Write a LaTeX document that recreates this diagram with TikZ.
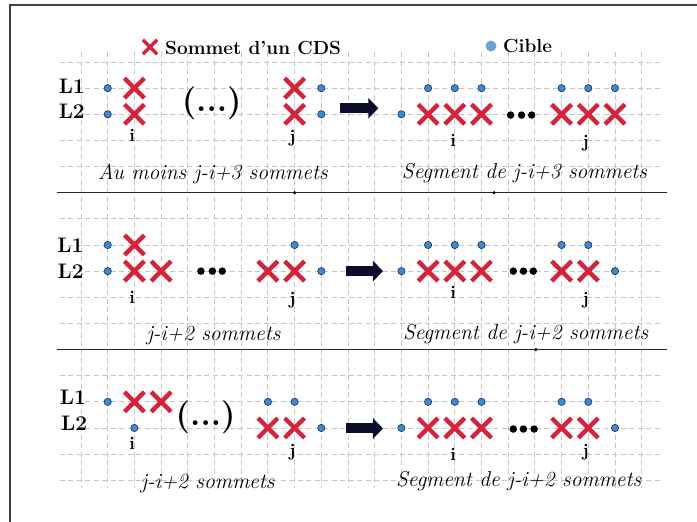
\documentclass[tikz,border=0pt]{standalone}
\usetikzlibrary{shapes.misc,arrows.meta}
\definecolor{cdsred}{RGB}{214,35,58}
\definecolor{cibleblue}{RGB}{58,138,214}
\definecolor{cibleline}{RGB}{25,45,80}
\definecolor{legblue}{RGB}{110,160,214}
\definecolor{navyarrow}{RGB}{12,12,44}
\definecolor{gridgray}{RGB}{198,198,198}
\begin{document}
\begin{tikzpicture}[x=26.7pt,y=-26.14pt,
  gridl/.style={gridgray, line width=0.9pt, dash pattern=on 5pt off 3.5pt},
  cds/.style={cross out, draw=cdsred, line width=4.4pt, minimum width=19.8pt, minimum height=19.8pt, inner sep=0pt, outer sep=0pt},
  legcds/.style={cross out, draw=cdsred, line width=3.3pt, minimum width=11pt, minimum height=11pt, inner sep=0pt},
  target/.style={circle, fill=cibleblue, draw=cibleline, line width=0.6pt, minimum size=7.3pt, inner sep=0pt},
  legtarget/.style={circle, fill=legblue, minimum size=11pt, inner sep=0pt},
  blackdot/.style={circle, fill=black, minimum size=7.5pt, inner sep=0pt},
  lab/.style={font=\fontsize{21}{24}\selectfont\bfseries, inner sep=0pt, anchor=east},
  idx/.style={font=\fontsize{18}{20}\selectfont\bfseries, inner sep=0pt, anchor=base},
  capt/.style={font=\fontsize{21.5}{24}\selectfont\itshape, inner sep=0pt, anchor=base},
  leg/.style={font=\fontsize{19}{22}\selectfont\bfseries, inner sep=0pt, anchor=west},
  paren/.style={font=\fontsize{33}{36}\selectfont\bfseries, inner sep=0pt},
  blockarrow/.style={navyarrow, line width=10pt, -{Triangle[length=10pt,width=20pt]}},
  sepline/.style={black!85, line width=1.1pt}
]
\useasboundingbox (-3.0337,-2.3719) rectangle (23.071,17.559);
% frame
\draw[black!75, line width=1.6pt] (-2.659,18) -- (-2.659,-2.181) -- (24,-2.181);
% grid
\foreach \m in {0,...,16} \draw[gridl] (-0.79,\m) -- (21.8,\m);
\foreach \k in {0,...,21} \draw[gridl] (\k,-0.38) -- (\k,16.3);
% separators
\draw[sepline] (-0.9,5) -- (21.95,5);
\draw[sepline] (-0.9,11) -- (21.95,11);
\fill (8,5) circle (1.7pt);
\fill (15.47,5) circle (1.7pt);
\fill (17.04,11) circle (1.7pt);

% legend
\node[legcds] (legx) at (2.584,-0.574) {};
\node[leg] (legxt) at (3.146,-0.555) {Sommet d’un CDS};
\node[legtarget] (legc) at (15.356,-0.612) {};
\node[leg] (legct) at (15.805,-0.612) {Cible};

% ===== Panel 1 =====
\node[lab] (p1l1) at (0.15,0.918) {L1};
\node[lab] (p1l2) at (0.15,1.894) {L2};
\node[target] (p1a1) at (1,1) {};
\node[target] (p1a2) at (1,2) {};
\node[cds] (p1x1) at (2,1) {};
\node[cds] (p1x2) at (2,2) {};
\node[paren] (p1par) at (4.895,1.57) {(...)};
\node[cds] (p1x3) at (8,1) {};
\node[cds] (p1x4) at (8,2) {};
\node[target] (p1b1) at (9,1) {};
\node[target] (p1b2) at (9,2) {};
\node[idx] (p1i) at (1.92,3.06) {i};
\node[idx] (p1j) at (7.92,3.08) {j};
\node[capt] (p1cap) at (4.94,4.50) {Au moins j-i+3 sommets};
\coordinate (p1as) at (9.70,1.77);
\coordinate (p1ae) at (11.135,1.77);
\draw[blockarrow] (p1as) -- (p1ae);
\foreach \c [count=\n] in {13,14,15,18,19,20} \node[target] (p1t\n) at (\c,1) {};
\node[target] (p1r0) at (12,2) {};
\foreach \c [count=\n] in {13,14,15,18,19,20} \node[cds] (p1r\n) at (\c,2) {};
\foreach \c [count=\n] in {16.09,16.50,16.88} \node[blackdot] (p1d\n) at (\c,2.03) {};
\node[idx] (p1ri) at (13.94,3.24) {i};
\node[idx] (p1rj) at (18.9,3.26) {j};
\node[capt] (p1rcap) at (16.61,4.46) {Segment de j-i+3 sommets};

% ===== Panel 2 =====
\node[lab] (p2l1) at (0.10,7.0) {L1};
\node[lab] (p2l2) at (0.11,8.0) {L2};
\node[target] (p2a1) at (1,7) {};
\node[target] (p2a2) at (1,8) {};
\node[cds] (p2x1) at (2,7) {};
\node[cds] (p2x2) at (2,8) {};
\node[cds] (p2x3) at (3,8) {};
\foreach \c [count=\n] in {4.49,4.92,5.29} \node[blackdot] (p2ld\n) at (\c,8) {};
\node[cds] (p2x4) at (7,8) {};
\node[cds] (p2x5) at (8,8) {};
\node[target] (p2b1) at (8,7) {};
\node[target] (p2b2) at (9,8) {};
\node[idx] (p2i) at (1.92,9.23) {i};
\node[idx] (p2j) at (7.92,9.29) {j};
\node[capt] (p2cap) at (4.96,10.67) {j-i+2 sommets};
\coordinate (p2as) at (9.925,8);
\coordinate (p2ae) at (11.31,8);
\draw[blockarrow] (p2as) -- (p2ae);
\foreach \c [count=\n] in {13,14,15,18,19} \node[target] (p2t\n) at (\c,7) {};
\node[target] (p2r0) at (12,8) {};
\foreach \c [count=\n] in {13,14,15,18,19} \node[cds] (p2r\n) at (\c,8) {};
\node[target] (p2r6) at (20,8) {};
\foreach \c [count=\n] in {16.19,16.57,16.94} \node[blackdot] (p2d\n) at (\c,8) {};
\node[idx] (p2ri) at (13.94,9.04) {i};
\node[idx] (p2rj) at (18.9,9.29) {j};
\node[capt] (p2rcap) at (16.65,10.63) {Segment de j-i+2 sommets};

% ===== Panel 3 =====
\node[lab] (p3l1) at (0.19,12.83) {L1};
\node[lab] (p3l2) at (0.24,13.81) {L2};
\node[target] (p3a1) at (1,13) {};
\node[cds] (p3x1) at (2,13) {};
\node[cds] (p3x2) at (3,13) {};
\node[target] (p3a2) at (2,14) {};
\node[paren] (p3par) at (4.67,13.6) {(...)};
\node[target] (p3b1) at (7,13) {};
\node[target] (p3b2) at (8,13) {};
\node[cds] (p3x3) at (7,14) {};
\node[cds] (p3x4) at (8,14) {};
\node[target] (p3b3) at (9,14) {};
\node[idx] (p3i) at (1.92,14.84) {i};
\node[idx] (p3j) at (7.92,15.11) {j};
\node[capt] (p3cap) at (4.74,16.31) {j-i+2 sommets};
\coordinate (p3as) at (9.925,14.02);
\coordinate (p3ae) at (11.31,14.02);
\draw[blockarrow] (p3as) -- (p3ae);
\foreach \c [count=\n] in {13,14,15,18,19} \node[target] (p3t\n) at (\c,13) {};
\node[target] (p3r0) at (12,14) {};
\foreach \c [count=\n] in {13,14,15,18,19} \node[cds] (p3r\n) at (\c,14) {};
\node[target] (p3r6) at (20,14) {};
\foreach \c [count=\n] in {16.19,16.57,16.97} \node[blackdot] (p3d\n) at (\c,14.04) {};
\node[idx] (p3ri) at (13.94,15.25) {i};
\node[idx] (p3rj) at (18.9,15.11) {j};
\node[capt] (p3rcap) at (16.39,16.25) {Segment de j-i+2 sommets};
\end{tikzpicture}
\end{document}
